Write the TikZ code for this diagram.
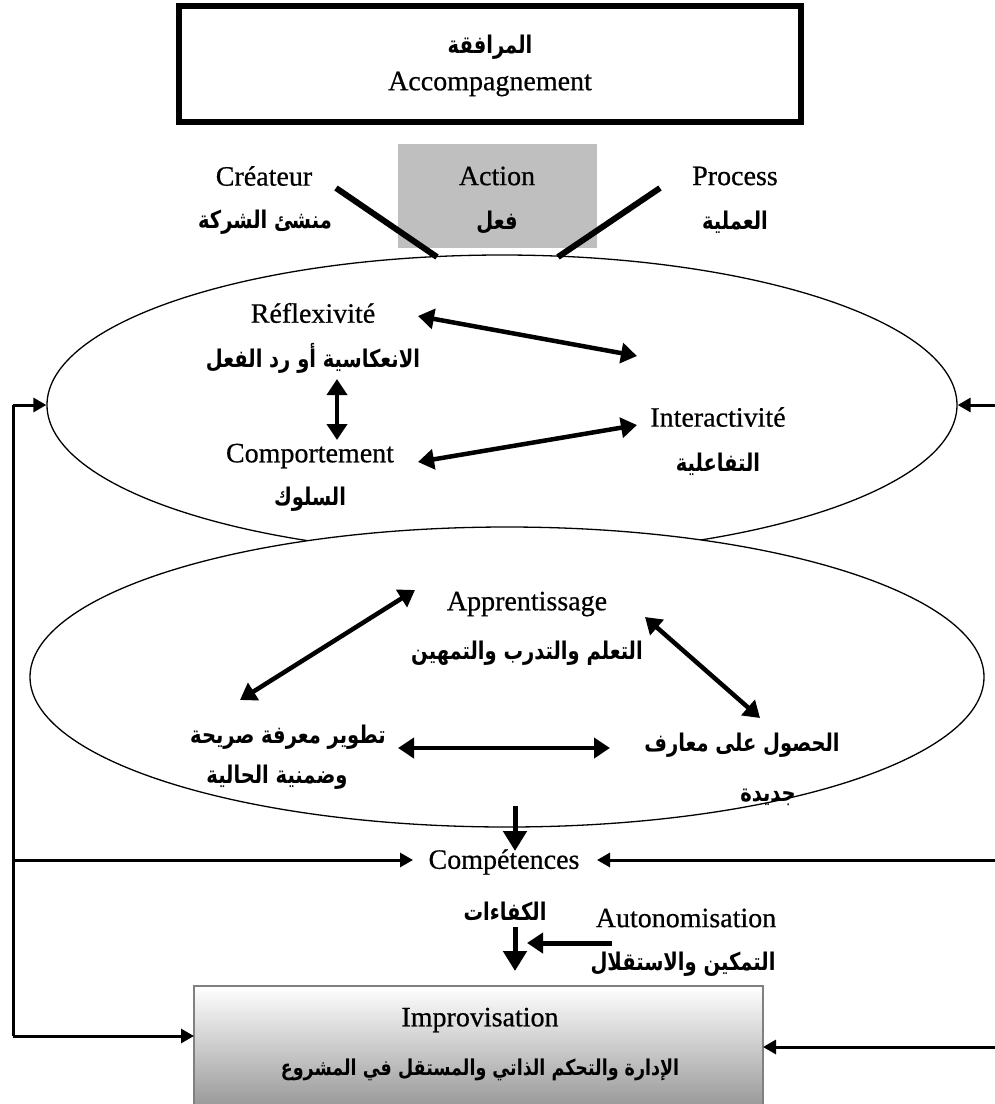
\documentclass[tikz,border=0pt]{standalone}
\usepackage{fontspec}
\setmainfont{Liberation Serif}[FakeBold=0.6]
\newfontfamily\arabicfont[Script=Arabic]{DejaVu Sans}
\TeXXeTstate=1
\usetikzlibrary{arrows.meta,shapes.geometric}

% Arabic label, set right to left, slightly tall
\newcommand\artxt[1]{\scalebox{1}[1.25]{\arabicfont\bfseries\beginR #1\endR}}

\tikzset{
  lat/.style={inner sep=0pt, font=\fontsize{28}{32}\selectfont},
  ara/.style={inner sep=0pt, font=\fontsize{19.5}{24}\selectfont},
  aralong/.style={inner sep=0pt, font=\fontsize{17.5}{22}\selectfont},
  dbl/.style={line width=4.5pt, {Triangle[length=16pt,width=20pt]}-{Triangle[length=16pt,width=20pt]}},
  fb/.style={line width=3pt, -{Triangle[length=13pt,width=14pt]}},
  down/.style={line width=5pt, -{Triangle[length=20pt,width=23pt]}},
  spoke/.style={line width=6pt},
  oval/.style={ellipse, draw, line width=1.3pt, inner sep=0pt},
}

\begin{document}
\begin{tikzpicture}[x=1pt,y=-1pt]
\useasboundingbox (0,0) rectangle (995,1104);

% heading box
\node (topbox) [draw, line width=6pt, minimum width=622pt, minimum height=116pt, inner sep=0pt] at (490,64) {};
\node (accar) [ara] at (490,47) {\artxt{المرافقة}};
\node (acc) [lat] at (490,84) {Accompagnement};

% action box and its two spokes
\node (actbox) [fill={rgb,255:red,191;green,191;blue,191}, minimum width=199pt, minimum height=104pt, inner sep=0pt] at (497.5,196) {};
\node (action) [lat] at (497,176) {Action};
\node (actionar) [ara] at (497,222) {\artxt{فعل}};
\node (createur) [lat] at (264,176) {Créateur};
\node (createurar) [ara] at (265,222) {\artxt{منشئ الشركة}};
\node (process) [lat] at (735,176) {Process};
\node (processar) [ara] at (735,222) {\artxt{العملية}};

% upper oval
\node (upper) [oval, minimum width=910pt, minimum height=300pt] at (502,405) {};
% lower oval covers the bottom of the upper one
\node (lower) [oval, fill=white, minimum width=954pt, minimum height=300pt] at (507,677) {};

\coordinate (sl1) at (336,188);
\coordinate (sl2) at (437,257);
\coordinate (sr1) at (660,188);
\coordinate (sr2) at (558,257);
\draw[spoke] (sl1) -- (sl2);
\draw[spoke] (sr1) -- (sr2);

% upper oval contents
\node (refl) [lat] at (313,313) {Réflexivité};
\node (reflar) [ara] at (313,358) {\artxt{الانعكاسية أو رد الفعل}};
\node (inter) [lat] at (718,417) {Interactivité};
\node (interar) [ara] at (718,464) {\artxt{التفاعلية}};
\node (comp) [lat] at (310,456) {Comportement};
\node (compar) [ara] at (310,499) {\artxt{السلوك}};

\coordinate (a1s) at (418,316); \coordinate (a1e) at (637,356);
\coordinate (a2s) at (337,379); \coordinate (a2e) at (337,440);
\coordinate (a3s) at (418,462); \coordinate (a3e) at (637,425);
\draw[dbl] (a1s) -- (a1e);
\draw[dbl] (a2s) -- (a2e);
\draw[dbl] (a3s) -- (a3e);

% lower oval contents
\node (appr) [lat] at (527,604) {Apprentissage};
\node (apprar) [ara] at (527,653) {\artxt{التعلم والتدرب والتمهين}};
\node (dev1) [ara] at (288,737) {\artxt{تطوير معرفة صريحة}};
\node (dev2) [ara] at (277,777) {\artxt{وضمنية الحالية}};
\node (acq1) [ara] at (742,745) {\artxt{الحصول على معارف}};
\node (acq2) [ara] at (768,797) {\artxt{جديدة}};

\coordinate (b1s) at (415,590); \coordinate (b1e) at (240,700);
\coordinate (b2s) at (645,617); \coordinate (b2e) at (760,718);
\coordinate (b3s) at (398,748); \coordinate (b3e) at (610,748);
\draw[dbl] (b1s) -- (b1e);
\draw[dbl] (b2s) -- (b2e);
\draw[dbl] (b3s) -- (b3e);

% competences and autonomy
\node (compet) [lat] at (504,862) {Compétences};
\node (competar) [ara] at (505,911) {\artxt{الكفاءات}};
\node (auto) [lat] at (686,918) {Autonomisation};
\node (autoar) [ara] at (683,964) {\artxt{التمكين والاستقلال}};

\coordinate (d1s) at (515,806); \coordinate (d1e) at (515,851);
\coordinate (d2s) at (515,927); \coordinate (d2e) at (515,971);
\coordinate (aus) at (612,943); \coordinate (aue) at (527,943);
\draw[down] (d1s) -- (d1e);
\draw[down] (d2s) -- (d2e);
\draw[line width=5pt, -{Triangle[length=16pt,width=20pt]}] (aus) -- (aue);

% improvisation box
\node (impbox) [draw={rgb,255:red,128;green,128;blue,128}, line width=1.5pt,
  top color=white, bottom color={rgb,255:red,150;green,150;blue,150},
  minimum width=569pt, minimum height=124pt, inner sep=0pt] at (478.5,1048) {};
\node (impr) [lat] at (480,1020) {Improvisation};
\node (imprar) [aralong] at (480,1070) {\artxt{الإدارة والتحكم الذاتي والمستقل في المشروع}};

% feedback loops on both sides
\coordinate (lt) at (13,405);
\coordinate (lm) at (13,860);
\coordinate (lb) at (13,1036);
\coordinate (lbe) at (194,1036);
\coordinate (cl) at (413,860);
\coordinate (rt) at (995,405);
\coordinate (rm) at (995,860);
\coordinate (cr) at (597,860);
\coordinate (rb) at (995,1047);
\coordinate (rbe) at (763,1047);

\draw[line width=3pt] (lt) -- (lb);
\draw[fb] (lt) -- (upper.west);
\draw[fb] (lm) -- (cl);
\draw[fb] (lb) -- (lbe);
\draw[fb] (rt) -- (upper.east);
\draw[fb] (rm) -- (cr);
\draw[fb] (rb) -- (rbe);
\end{tikzpicture}
\end{document}
